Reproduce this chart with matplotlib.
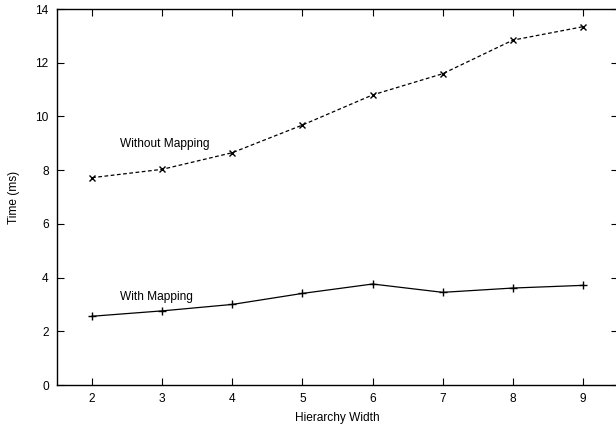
import numpy as np
import matplotlib.pyplot as plt

plt.rcParams['font.family'] = ['Liberation Sans', 'DejaVu Sans']

width = [2, 3, 4, 5, 6, 7, 8, 9]
without_mapping = [7.72, 8.03, 8.65, 9.68, 10.80, 11.59, 12.84, 13.34]
with_mapping = [2.56, 2.76, 3.00, 3.41, 3.76, 3.45, 3.61, 3.71]

fig = plt.figure(figsize=(6.16, 4.25), dpi=100)
# right border of the plot falls just outside the picture, as in the original
ax = fig.add_axes([57 / 616, 40 / 425, 561 / 616, 376 / 425])

ax.plot(width, without_mapping, "k--", marker="x", markersize=5,
        linewidth=0.9, dashes=(3, 2))
ax.plot(width, with_mapping, "k-", marker="+", markersize=6, linewidth=0.9)

ax.text(2.4, 8.97, "Without Mapping", fontsize=8.6, va="center")
ax.text(2.4, 3.29, "With Mapping", fontsize=8.6, va="center")

ax.set_xlim(1.5, 9.5)
ax.set_ylim(0, 14)
ax.set_xticks(width)
ax.set_yticks(np.arange(0, 15, 2))
ax.tick_params(direction="in", top=True, right=True, length=5,
               labelsize=8.6, pad=6)
for s in ax.spines.values():
    s.set_linewidth(1.0)

ax.set_xlabel("Hierarchy Width", fontsize=8.6, labelpad=5)
ax.set_ylabel("Time (ms)", fontsize=8.6, labelpad=11)

fig.savefig("out.png", dpi=100)
